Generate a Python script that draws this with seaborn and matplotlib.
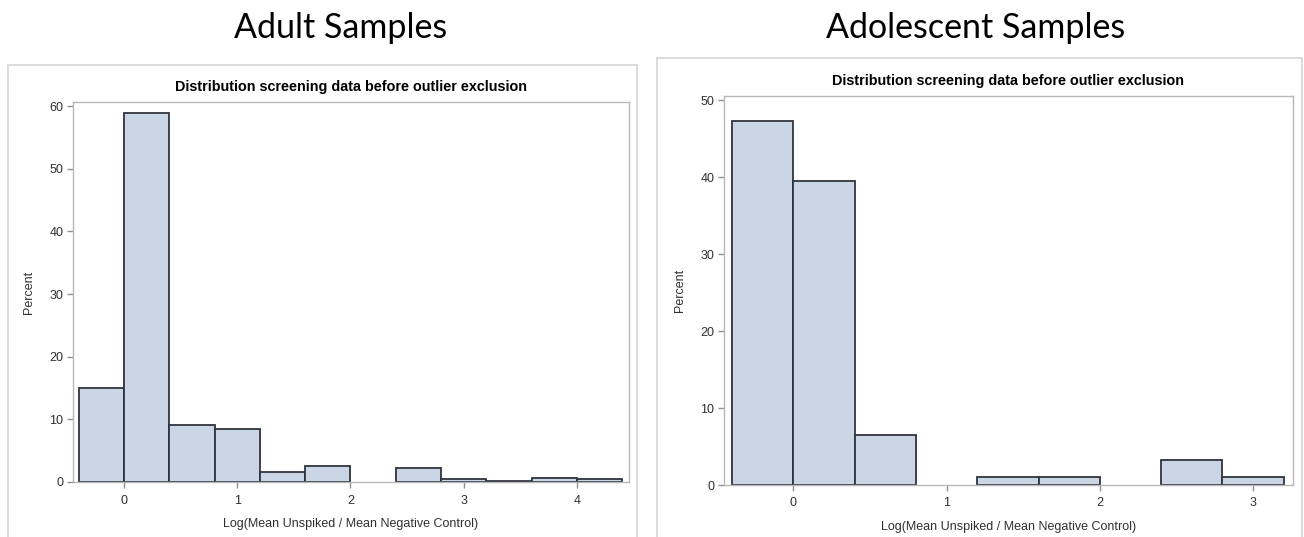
import matplotlib
matplotlib.use("Agg")
import matplotlib.pyplot as plt
from matplotlib.patches import Rectangle
import seaborn as sns

# bin edges and percent per bin
adult_edges = [-0.4, 0.0, 0.4, 0.8, 1.2, 1.6, 2.0, 2.4, 2.8, 3.2, 3.6, 4.0, 4.4]
adult_pct = [15.05, 58.9, 9.05, 8.5, 1.6, 2.5, 0.0, 2.3, 0.45, 0.16, 0.6, 0.4]

adol_edges = [-0.4, 0.0, 0.4, 0.8, 1.2, 1.6, 2.0, 2.4, 2.8, 3.2]
adol_pct = [47.3, 39.5, 6.55, 0.0, 1.05, 1.05, 0.0, 3.3, 1.05]

adult_xticks = [0, 1, 2, 3, 4]
adol_xticks = [0, 1, 2, 3]
adult_yticks = [0, 10, 20, 30, 40, 50, 60]
adol_yticks = [0, 10, 20, 30, 40, 50]

panel_titles = ["Adult Samples", "Adolescent Samples"]
plot_title = "Distribution screening data before outlier exclusion"
xlabel = "Log(Mean Unspiked / Mean Negative Control)"
ylabel = "Percent"

W, H = 1304, 537
FILL = "#cad5e5"
EDGE = "#30343e"
AXIS = "#b8b8b8"
TXT = "#303030"

sns.set_theme(style="white")
plt.rcParams["font.family"] = ["Liberation Sans", "DejaVu Sans"]

fig = plt.figure(figsize=(W / 100, H / 100), dpi=100)
fig.patch.set_facecolor("white")


def px_box(x0, y0, x1, y1):
    # pixel box (top-left origin) -> figure fraction [left, bottom, width, height]
    return [x0 / W, 1 - y1 / H, (x1 - x0) / W, (y1 - y0) / H]


def panel(box, frame, edges, pct, xticks, yticks, xlim, ylim, big_title, big_x):
    # light outer frame of the SAS output
    fx0, fy0, fx1, fy1 = frame
    fig.patches.append(Rectangle((fx0 / W, 1 - fy1 / H), (fx1 - fx0) / W, (fy1 - fy0) / H,
                                 transform=fig.transFigure, fill=False,
                                 edgecolor="#d6d6d6", lw=1.2))
    ax = fig.add_axes(px_box(*box))
    mids = [(a + b) / 2 for a, b in zip(edges[:-1], edges[1:])]
    sns.histplot(x=mids, weights=pct, bins=edges, stat="count", ax=ax,
                 color=FILL, edgecolor=EDGE, linewidth=1.3, alpha=1)
    for p in list(ax.patches):
        if p.get_height() == 0:
            p.remove()
    ax.set_xlim(*xlim)
    ax.set_ylim(*ylim)
    ax.set_xticks(xticks)
    ax.set_yticks(yticks)
    for s in ax.spines.values():
        s.set_color(AXIS)
        s.set_linewidth(1)
    ax.tick_params(axis="both", which="both", direction="out", length=4, width=1,
                   color="#909090", labelcolor=TXT, labelsize=9, pad=3,
                   bottom=True, left=True)
    ax.tick_params(axis="x", pad=5)
    ax.set_xlabel(xlabel, fontsize=9, color=TXT, labelpad=8)
    ax.set_ylabel(ylabel, fontsize=9, color=TXT, labelpad=10)
    ax.set_title(plot_title, fontsize=10.4, fontweight="bold", color="black", pad=8)
    fig.text(big_x / W, 1 - 28 / H, big_title, ha="center", va="center",
             fontsize=24.5, color="black", family=["Lato", "DejaVu Sans"])
    return ax


panel((73, 102, 629, 482), (8, 65, 637, 545), adult_edges, adult_pct,
      adult_xticks, adult_yticks, (-0.45, 4.46), (0, 60.64), panel_titles[0], 341)
panel((724, 96, 1293, 485), (657, 58, 1302, 545), adol_edges, adol_pct,
      adol_xticks, adol_yticks, (-0.452, 3.26), (0, 50.56), panel_titles[1], 976)

fig.savefig("out.png", dpi=100, facecolor="white")
